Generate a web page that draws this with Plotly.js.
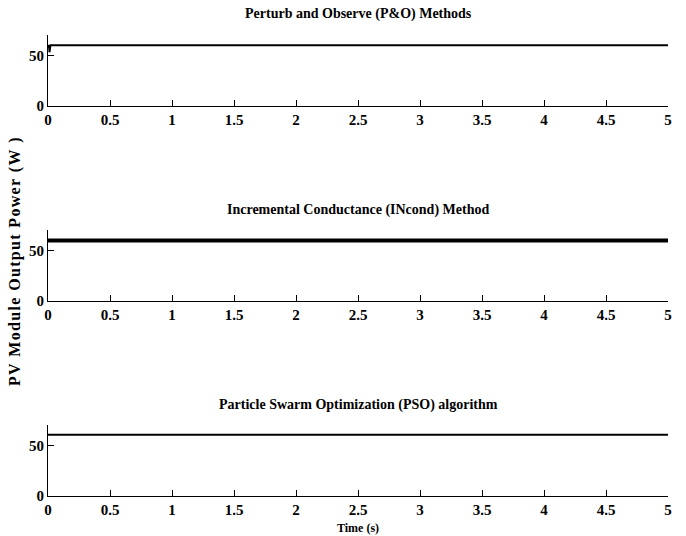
<!DOCTYPE html>
<html><head><meta charset="utf-8">
<script src="https://cdn.plot.ly/plotly-3.0.1.min.js"></script>
<style>html,body{margin:0;padding:0;background:#fff}</style>
</head><body><div id="chart" style="width:686px;height:536px"></div>
<script>
// Data
const poTime = [0, 0.008, 0.012, 0.016, 0.02, 0.03, 5];
const poPower = [57, 60, 53, 59, 60, 60, 60];
const incTime = [0, 5];
const incPower = [59.7, 59.7];
const psoTime = [0, 5];
const psoPower = [60.3, 60.3];
const xTicks = [0, 0.5, 1, 1.5, 2, 2.5, 3, 3.5, 4, 4.5, 5];
const xTickLabels = ["0", "0.5", "1", "1.5", "2", "2.5", "3", "3.5", "4", "4.5", "5"];
const yTicks = [0, 50];
const titles = ["Perturb and Observe (P&O) Methods", "Incremental Conductance (INcond) Method", "Particle Swarm Optimization (PSO) algorithm"];
const yLabel = "PV Module Output Power (W )";
const xLabel = "Time (s)";

const font = "Liberation Serif, Times New Roman, serif";
const line = {color: "#000", width: 2};
const traces = [
  {x: poTime, y: poPower, type: "scatter", mode: "lines", line: line, xaxis: "x", yaxis: "y"},
  {x: incTime, y: incPower, type: "scatter", mode: "lines", line: {color: "#000", width: 4}, xaxis: "x2", yaxis: "y2"},
  {x: psoTime, y: psoPower, type: "scatter", mode: "lines", line: line, xaxis: "x3", yaxis: "y3"}
];
function xa(anchor) {
  return {range: [0, 5], tickvals: xTicks, ticktext: xTickLabels, ticks: "inside", ticklen: 6,
    tickcolor: "#000", showline: true, linecolor: "#000", linewidth: 1, showgrid: false, zeroline: false,
    anchor: anchor, tickfont: {family: font, size: 15, color: "#000", weight: "bold"}};
}
function ya(anchor, dom) {
  return {range: [0, 70], tickvals: yTicks, ticks: "inside", ticklen: 6, tickcolor: "#000",
    showline: true, linecolor: "#000", linewidth: 1, showgrid: false, zeroline: false,
    anchor: anchor, domain: dom, tickfont: {family: font, size: 15, color: "#000", weight: "bold"}};
}
const H = 536 - 35 - 40, W = 686 - 48 - 18;
function py(pix) { return (496 - pix) / H; }
function px(pix) { return (pix - 48) / W; }
function ann(text, xp, yp, size, angle) {
  return {text: "<b>" + text + "</b>", x: px(xp), y: py(yp), xref: "paper", yref: "paper",
    showarrow: false, xanchor: "center", yanchor: "middle", textangle: angle || 0,
    font: {family: font, size: size, color: "#000"}};
}
const spaced = yLabel.split("").join("\u200A");
const layout = {
  width: 686, height: 536, showlegend: false,
  paper_bgcolor: "#fff", plot_bgcolor: "#fff",
  margin: {l: 48, r: 18, t: 35, b: 40},
  xaxis: xa("y"), yaxis: ya("x", [0.846, 1]),
  xaxis2: xa("y2"), yaxis2: ya("x2", [0.423, 0.577]),
  xaxis3: xa("y3"), yaxis3: ya("x3", [0, 0.154]),
  annotations: [
    ann(titles[0], 358, 14, 14),
    ann(titles[1], 358, 210, 14),
    ann(titles[2], 358, 405, 14),
    ann(xLabel, 358, 528, 12),
    ann(spaced, 15, 262, 16, -90)
  ]
};
Plotly.newPlot("chart", traces, layout, {displayModeBar: false});
</script></body></html>
